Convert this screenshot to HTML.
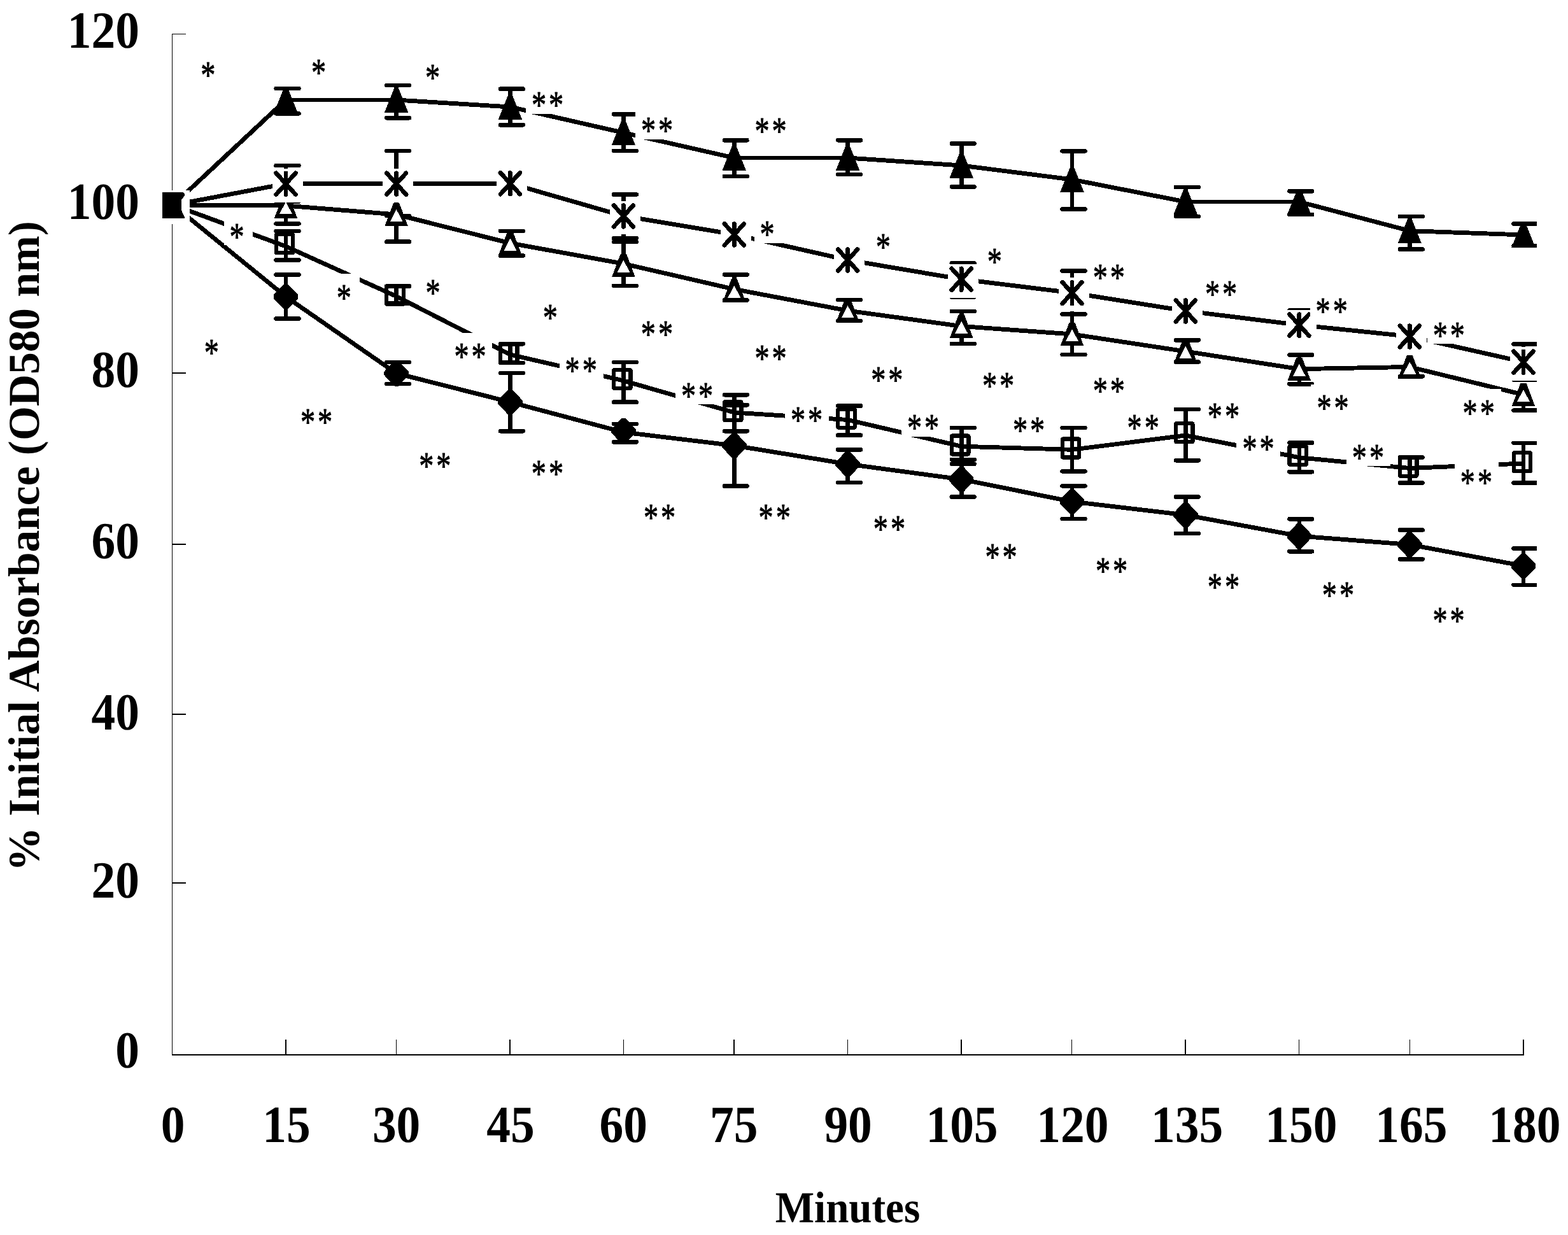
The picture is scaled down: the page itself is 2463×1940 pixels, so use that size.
<!DOCTYPE html>
<html lang="en"><head><meta charset="utf-8"><title>% Initial Absorbance (OD580 nm) vs Minutes</title>
<style>html,body{margin:0;padding:0;background:#fff}body{width:2463px;height:1940px;overflow:hidden}svg{display:block}text{font-family:"Liberation Serif", "Times New Roman", serif;fill:#000}.tk{font-weight:bold;font-size:82px}.ti{font-weight:bold;font-size:69.4px}.as{font-size:61px;stroke:#000;stroke-width:1px;stroke-linejoin:round}.l{fill:none;stroke:#000;stroke-width:6.9;stroke-linejoin:round;stroke-linecap:butt}.e{fill:none;stroke:#000;stroke-width:6.6;stroke-linecap:round}.s{fill:none;stroke:#000;stroke-width:6.6;stroke-linecap:butt}.a{fill:none;stroke:#000;stroke-width:1.6}.w{fill:#fff}.k{fill:#000}</style></head><body>
<svg width="2463" height="1940" viewBox="0 0 2463 1940" shape-rendering="crispEdges" text-rendering="geometricPrecision">
<rect class="w" x="0" y="0" width="2463" height="1940"/>
<defs><clipPath id="c"><rect x="0" y="0" width="2414" height="1940"/></clipPath></defs>
<g class="k">
<rect x="270" y="53" width="1.1" height="1605"/>
<rect x="270" y="1656" width="2124.4" height="2"/>
<rect x="270" y="53" width="22" height="1.4"/>
<rect x="270" y="585" width="22" height="2"/>
<rect x="270" y="854" width="22" height="2"/>
<rect x="270" y="1121" width="22" height="2"/>
<rect x="270" y="1386" width="22" height="2"/>
<rect x="448" y="1633" width="2" height="24"/>
<rect x="800" y="1633" width="2" height="24"/>
<rect x="1152" y="1633" width="2" height="24"/>
<rect x="1509" y="1633" width="2" height="24"/>
<rect x="1861" y="1633" width="2" height="24"/>
<rect x="2392.4" y="1633" width="2" height="24"/>
<rect x="622" y="1633" width="1.1" height="24"/>
<rect x="979" y="1633" width="1.1" height="24"/>
<rect x="1331" y="1633" width="1.1" height="24"/>
<rect x="1682.6" y="1633" width="1.1" height="24"/>
<rect x="2040" y="1633" width="1.1" height="24"/>
<rect x="2213.6" y="1633" width="1.1" height="24"/>
</g>
<g clip-path="url(#c)">
<polyline class="l" points="272,322 449,466 622.6,586.5 801.4,631.6 979.4,679 1153.3,699.9 1331.6,729 1510.2,753 1684,788 1862.3,809 2040.8,842 2214.3,855.5 2393,889"/>
<polyline class="l" points="272,322 449,387 622.6,465.5 801.4,557 979.4,598 1153.3,648 1331.6,659.5 1510.2,701.2 1684,706.3 1862.3,684 2040.8,718.7 2214.3,735.5 2393,728"/>
<polyline class="l" points="272,322 449,323 622.6,337 801.4,382 979.4,414.3 1153.3,454.3 1331.6,488 1510.2,512.5 1684,525 1862.3,552 2040.8,579.7 2214.3,576.4 2393,620"/>
<polyline class="l" points="272,322 449,288.6 622.6,288.6 801.4,288.1 979.4,339.3 1153.3,368.3 1331.6,408.4 1510.2,438.6 1684,460 1862.3,488.4 2040.8,510.5 2214.3,528.4 2393,568.6"/>
<polyline class="l" points="272,322 449,157 622.6,157 801.4,168 979.4,208.5 1153.3,248 1331.6,248 1510.2,260 1684,282 1862.3,317 2040.8,317 2214.3,362.6 2393,369"/>
<path class="w" d="M468 153.45 H603.6 v0.55 H468 z M468 160.55 H603.6 v-0.55 H468 z"/>
<path class="w" d="M1172.3 244.45 H1312.6 v0.55 H1172.3 z M1172.3 251.55 H1312.6 v-0.55 H1172.3 z"/>
<path class="w" d="M1881.3 313.45 H2021.8 v0.55 H1881.3 z M1881.3 320.55 H2021.8 v-0.55 H1881.3 z"/>
<path class="s" d="M449 431.4 V500.4M622.6 569 V603M801.4 586 V677.2M979.4 665.9 V694.4M1153.3 636.3 V763.5M1331.6 706.4 V758M1510.2 728.7 V780.5M1684 763.3 V815M1862.3 780.5 V838M2040.8 815.3 V866.2M2214.3 832.6 V878.4M2393 861.5 V918.8"/>
<path class="e" d="M433.6 431.4 H469.4M433.6 500.4 H469.4M607.2 569 H643M607.2 603 H643M786 586 H821.8M786 677.2 H821.8M964 665.9 H999.8M964 694.4 H999.8M1137.9 636.3 H1173.7M1137.9 763.5 H1173.7M1316.2 706.4 H1352M1316.2 758 H1352M1494.8 728.7 H1530.6M1494.8 780.5 H1530.6M1668.6 763.3 H1704.4M1668.6 815 H1704.4M1846.9 780.5 H1882.7M1846.9 838 H1882.7M2025.4 815.3 H2061.2M2025.4 866.2 H2061.2M2198.9 832.6 H2234.7M2198.9 878.4 H2234.7M2377.6 861.5 H2413.4M2377.6 918.8 H2413.4"/>
<path class="s" d="M449 363 V408.5M622.6 449.5 V476.5M801.4 540.3 V570M979.4 569 V631.6M1153.3 620.2 V677.2M1331.6 637.5 V683.6M1510.2 672 V721.8M1684 672 V740.3M1862.3 643 V723.2M2040.8 695.5 V741.2M2214.3 718.5 V758.5M2393 695.8 V758.6"/>
<path class="e" d="M433.6 363 H469.4M433.6 408.5 H469.4M607.2 449.5 H643M607.2 476.5 H643M786 540.3 H821.8M786 570 H821.8M964 569 H999.8M964 631.6 H999.8M1137.9 620.2 H1173.7M1137.9 677.2 H1173.7M1316.2 637.5 H1352M1316.2 683.6 H1352M1494.8 672 H1530.6M1494.8 721.8 H1530.6M1668.6 672 H1704.4M1668.6 740.3 H1704.4M1846.9 643 H1882.7M1846.9 723.2 H1882.7M2025.4 695.5 H2061.2M2025.4 741.2 H2061.2M2198.9 718.5 H2234.7M2198.9 758.5 H2234.7M2377.6 695.8 H2413.4M2377.6 758.6 H2413.4"/>
<path class="s" d="M449 294.7 V351.3M622.6 294.3 V379.7M801.4 362.8 V401.5M979.4 380 V448.8M1153.3 431.4 V471.5M1331.6 471 V504M1510.2 489 V540.1M1684 493.4 V557M1862.3 534.3 V568.6M2040.8 557.6 V603.2M2214.3 576.4 V591.3M2393 620 V644.7"/>
<path class="e" d="M433.6 294.7 H469.4M433.6 351.3 H469.4M607.2 294.3 H643M607.2 379.7 H643M786 362.8 H821.8M786 401.5 H821.8M964 380 H999.8M964 448.8 H999.8M1137.9 431.4 H1173.7M1137.9 471.5 H1173.7M1316.2 471 H1352M1316.2 504 H1352M1494.8 489 H1530.6M1494.8 540.1 H1530.6M1668.6 493.4 H1704.4M1668.6 557 H1704.4M1846.9 534.3 H1882.7M1846.9 568.6 H1882.7M2025.4 557.6 H2061.2M2025.4 603.2 H2061.2M2198.9 591.3 H2234.7M2377.6 644.7 H2413.4"/>
<path class="s" d="M449 260.1 V316.6M622.6 237 V339M979.4 305.5 V374.2M1510.2 413.5 V466.5M1684 425.6 V493.4M2040.8 487.5 V533.5M2393 540.5 V596.5"/>
<path class="e" d="M433.6 260.1 H469.4M433.6 316.6 H469.4M607.2 237 H643M607.2 339 H643M964 305.5 H999.8M964 374.2 H999.8M1494.8 413.5 H1530.6M1494.8 466.5 H1530.6M1668.6 425.6 H1704.4M1668.6 493.4 H1704.4M2025.4 487.5 H2061.2M2025.4 533.5 H2061.2M2377.6 540.5 H2413.4M2377.6 596.5 H2413.4"/>
<path class="s" d="M449 139 V178.3M622.6 134 V185.2M801.4 139.6 V196.3M979.4 179.4 V236.9M1153.3 220.3 V277M1331.6 220.3 V274M1510.2 225.6 V293.4M1684 237.3 V328.5M1862.3 294 V339.9M2040.8 300.3 V337M2214.3 340 V391.6M2393 351.5 V386"/>
<path class="e" d="M433.6 139 H469.4M433.6 178.3 H469.4M607.2 134 H643M607.2 185.2 H643M786 139.6 H821.8M786 196.3 H821.8M964 179.4 H999.8M964 236.9 H999.8M1137.9 220.3 H1173.7M1137.9 277 H1173.7M1316.2 220.3 H1352M1316.2 274 H1352M1494.8 225.6 H1530.6M1494.8 293.4 H1530.6M1668.6 237.3 H1704.4M1668.6 328.5 H1704.4M1846.9 294 H1882.7M1846.9 339.9 H1882.7M2025.4 300.3 H2061.2M2025.4 337 H2061.2M2198.9 340 H2234.7M2198.9 391.6 H2234.7M2377.6 351.5 H2413.4M2377.6 386 H2413.4"/>
<g>
<path class="k" d="M446.5 445.5 h5 l16.7 17.7 v5.6 l-16.7 17.7 h-5 l-16.7 -17.7 v-5.6z"/>
<path class="k" d="M620.1 566 h5 l16.7 17.7 v5.6 l-16.7 17.7 h-5 l-16.7 -17.7 v-5.6z"/>
<path class="k" d="M798.9 611.1 h5 l16.7 17.7 v5.6 l-16.7 17.7 h-5 l-16.7 -17.7 v-5.6z"/>
<path class="k" d="M976.9 656.5 h5 l16.7 17.7 v5.6 l-16.7 17.7 h-5 l-16.7 -17.7 v-5.6z"/>
<path class="k" d="M1150.8 679.4 h5 l16.7 17.7 v5.6 l-16.7 17.7 h-5 l-16.7 -17.7 v-5.6z"/>
<path class="k" d="M1329.1 708.5 h5 l16.7 17.7 v5.6 l-16.7 17.7 h-5 l-16.7 -17.7 v-5.6z"/>
<path class="k" d="M1507.7 732.5 h5 l16.7 17.7 v5.6 l-16.7 17.7 h-5 l-16.7 -17.7 v-5.6z"/>
<path class="k" d="M1681.5 767.5 h5 l16.7 17.7 v5.6 l-16.7 17.7 h-5 l-16.7 -17.7 v-5.6z"/>
<path class="k" d="M1859.8 788.5 h5 l16.7 17.7 v5.6 l-16.7 17.7 h-5 l-16.7 -17.7 v-5.6z"/>
<path class="k" d="M2038.3 821.5 h5 l16.7 17.7 v5.6 l-16.7 17.7 h-5 l-16.7 -17.7 v-5.6z"/>
<path class="k" d="M2211.8 835 h5 l16.7 17.7 v5.6 l-16.7 17.7 h-5 l-16.7 -17.7 v-5.6z"/>
<path class="k" d="M2390.5 868.5 h5 l16.7 17.7 v5.6 l-16.7 17.7 h-5 l-16.7 -17.7 v-5.6z"/>
</g>
<g>
<rect x="433.65" y="368.25" width="26.5" height="29" rx="1" fill="none" stroke="#000" stroke-width="6.3" stroke-linejoin="round"/>
<rect x="607.25" y="449.15" width="26.5" height="29" rx="1" fill="none" stroke="#000" stroke-width="6.3" stroke-linejoin="round"/>
<rect x="786.05" y="540.25" width="26.5" height="29" rx="1" fill="none" stroke="#000" stroke-width="6.3" stroke-linejoin="round"/>
<rect x="964.05" y="581.25" width="26.5" height="29" rx="1" fill="none" stroke="#000" stroke-width="6.3" stroke-linejoin="round"/>
<rect x="1137.95" y="631.25" width="26.5" height="29" rx="1" fill="none" stroke="#000" stroke-width="6.3" stroke-linejoin="round"/>
<rect x="1316.25" y="642.75" width="26.5" height="29" rx="1" fill="none" stroke="#000" stroke-width="6.3" stroke-linejoin="round"/>
<rect x="1494.85" y="684.45" width="26.5" height="29" rx="1" fill="none" stroke="#000" stroke-width="6.3" stroke-linejoin="round"/>
<rect x="1668.65" y="689.55" width="26.5" height="29" rx="1" fill="none" stroke="#000" stroke-width="6.3" stroke-linejoin="round"/>
<rect x="1846.95" y="665.25" width="26.5" height="29" rx="1" fill="none" stroke="#000" stroke-width="6.3" stroke-linejoin="round"/>
<rect x="2025.45" y="700.75" width="26.5" height="29" rx="1" fill="none" stroke="#000" stroke-width="6.3" stroke-linejoin="round"/>
<rect x="2198.95" y="718.75" width="26.5" height="29" rx="1" fill="none" stroke="#000" stroke-width="6.3" stroke-linejoin="round"/>
<rect x="2377.65" y="711.25" width="26.5" height="29" rx="1" fill="none" stroke="#000" stroke-width="6.3" stroke-linejoin="round"/>
</g>
<g>
<path class="k" d="M444.5 306.8 h9 l13.8 36.5 h-36.6z"/><path class="w" d="M449 316.8 l10 19.5 h-20z"/>
<path class="k" d="M618.1 318.8 h9 l13.8 36.5 h-36.6z"/><path class="w" d="M622.6 328.8 l10 19.5 h-20z"/>
<path class="k" d="M796.9 364.3 h9 l13.8 36.5 h-36.6z"/><path class="w" d="M801.4 374.3 l10 19.5 h-20z"/>
<path class="k" d="M974.9 398.5 h9 l13.8 36.5 h-36.6z"/><path class="w" d="M979.4 408.5 l10 19.5 h-20z"/>
<path class="k" d="M1148.8 438.3 h9 l13.8 36.5 h-36.6z"/><path class="w" d="M1153.3 448.3 l10 19.5 h-20z"/>
<path class="k" d="M1327.1 469.8 h9 l13.8 36.5 h-36.6z"/><path class="w" d="M1331.6 479.8 l10 19.5 h-20z"/>
<path class="k" d="M1505.7 494.3 h9 l13.8 36.5 h-36.6z"/><path class="w" d="M1510.2 504.3 l10 19.5 h-20z"/>
<path class="k" d="M1679.5 506.8 h9 l13.8 36.5 h-36.6z"/><path class="w" d="M1684 516.8 l10 19.5 h-20z"/>
<path class="k" d="M1857.8 533.8 h9 l13.8 36.5 h-36.6z"/><path class="w" d="M1862.3 543.8 l10 19.5 h-20z"/>
<path class="k" d="M2036.3 561.5 h9 l13.8 36.5 h-36.6z"/><path class="w" d="M2040.8 571.5 l10 19.5 h-20z"/>
<path class="k" d="M2209.8 558.2 h9 l13.8 36.5 h-36.6z"/><path class="w" d="M2214.3 568.2 l10 19.5 h-20z"/>
<path class="k" d="M2388.5 601.8 h9 l13.8 36.5 h-36.6z"/><path class="w" d="M2393 611.8 l10 19.5 h-20z"/>
</g>
<g>
<rect class="w" x="250.1" y="298.7" width="48" height="53.4"/>
<rect class="w" x="427.7" y="265" width="48" height="52.5"/><path d="M433.7 271.9 L464.3 305.5 M464.3 271.9 L433.7 305.5 M449 271.9 V305.5" fill="none" stroke="#000" stroke-width="6.9" stroke-linecap="round"/>
<rect class="w" x="601.3" y="265" width="48" height="52.5"/><path d="M607.3 271.9 L637.9 305.5 M637.9 271.9 L607.3 305.5 M622.6 271.9 V305.5" fill="none" stroke="#000" stroke-width="6.9" stroke-linecap="round"/>
<rect class="w" x="780.1" y="264.5" width="48" height="52.5"/><path d="M786.1 271.4 L816.7 305 M816.7 271.4 L786.1 305 M801.4 271.4 V305" fill="none" stroke="#000" stroke-width="6.9" stroke-linecap="round"/>
<rect class="w" x="958.1" y="315.7" width="48" height="52.5"/><path d="M964.1 322.6 L994.7 356.2 M994.7 322.6 L964.1 356.2 M979.4 322.6 V356.2" fill="none" stroke="#000" stroke-width="6.9" stroke-linecap="round"/>
<rect class="w" x="1132" y="344.7" width="48" height="52.5"/><path d="M1138 351.6 L1168.6 385.2 M1168.6 351.6 L1138 385.2 M1153.3 351.6 V385.2" fill="none" stroke="#000" stroke-width="6.9" stroke-linecap="round"/>
<rect class="w" x="1310.3" y="384.8" width="48" height="52.5"/><path d="M1316.3 391.7 L1346.9 425.3 M1346.9 391.7 L1316.3 425.3 M1331.6 391.7 V425.3" fill="none" stroke="#000" stroke-width="6.9" stroke-linecap="round"/>
<rect class="w" x="1488.9" y="415" width="48" height="52.5"/><path d="M1494.9 421.9 L1525.5 455.5 M1525.5 421.9 L1494.9 455.5 M1510.2 421.9 V455.5" fill="none" stroke="#000" stroke-width="6.9" stroke-linecap="round"/>
<rect class="w" x="1662.7" y="436.4" width="48" height="52.5"/><path d="M1668.7 443.3 L1699.3 476.9 M1699.3 443.3 L1668.7 476.9 M1684 443.3 V476.9" fill="none" stroke="#000" stroke-width="6.9" stroke-linecap="round"/>
<rect class="w" x="1841" y="464.8" width="48" height="52.5"/><path d="M1847 471.7 L1877.6 505.3 M1877.6 471.7 L1847 505.3 M1862.3 471.7 V505.3" fill="none" stroke="#000" stroke-width="6.9" stroke-linecap="round"/>
<rect class="w" x="2019.5" y="486.9" width="48" height="52.5"/><path d="M2025.5 493.8 L2056.1 527.4 M2056.1 493.8 L2025.5 527.4 M2040.8 493.8 V527.4" fill="none" stroke="#000" stroke-width="6.9" stroke-linecap="round"/>
<rect class="w" x="2193" y="504.8" width="48" height="52.5"/><path d="M2199 511.7 L2229.6 545.3 M2229.6 511.7 L2199 545.3 M2214.3 511.7 V545.3" fill="none" stroke="#000" stroke-width="6.9" stroke-linecap="round"/>
<rect class="w" x="2371.7" y="545" width="48" height="52.5"/><path d="M2377.7 551.9 L2408.3 585.5 M2408.3 551.9 L2377.7 585.5 M2393 551.9 V585.5" fill="none" stroke="#000" stroke-width="6.9" stroke-linecap="round"/>
<rect class="k" x="255" y="302" width="29.5" height="41"/>
<path class="k" d="M284 302 h4 l2.3 2.5 v3 l-6.3 7z M284 328 l6.3 14 v1 h-6.3z"/>
</g>
<g>
<path class="k" d="M446 138 h6 l15.6 39 h-37.2z"/>
<path class="k" d="M619.6 137.5 h6 l15.6 39 h-37.2z"/>
<path class="k" d="M798.4 148.5 h6 l15.6 39 h-37.2z"/>
<path class="k" d="M976.4 189 h6 l15.6 39 h-37.2z"/>
<path class="k" d="M1150.3 228.5 h6 l15.6 39 h-37.2z"/>
<path class="k" d="M1328.6 228.5 h6 l15.6 39 h-37.2z"/>
<path class="k" d="M1507.2 240.5 h6 l15.6 39 h-37.2z"/>
<path class="k" d="M1681 262.5 h6 l15.6 39 h-37.2z"/>
<path class="k" d="M1859.3 297.5 h6 l15.6 39 h-37.2z"/>
<path class="k" d="M2037.8 297.5 h6 l15.6 39 h-37.2z"/>
<path class="k" d="M2211.3 343.1 h6 l15.6 39 h-37.2z"/>
<path class="k" d="M2390 349.5 h6 l15.6 39 h-37.2z"/>
</g>
</g>
<g>
<rect class="w" x="306.3" y="79.9" width="45.5" height="51.3"/>
<text class="as" text-anchor="middle" transform="translate(326.8 137.66) scale(0.76 1)">*</text>
<rect class="w" x="480" y="76" width="45.5" height="51.3"/>
<text class="as" text-anchor="middle" transform="translate(500.5 133.76) scale(0.76 1)">*</text>
<rect class="w" x="659" y="84.1" width="45.5" height="51.3"/>
<text class="as" text-anchor="middle" transform="translate(679.5 141.86) scale(0.76 1)">*</text>
<rect class="w" x="351.7" y="333.8" width="45.5" height="51.3"/>
<text class="as" text-anchor="middle" transform="translate(372.2 391.56) scale(0.76 1)">*</text>
<rect class="w" x="519.8" y="429.8" width="45.5" height="51.3"/>
<text class="as" text-anchor="middle" transform="translate(540.3 487.56) scale(0.76 1)">*</text>
<rect class="w" x="659.5" y="422.3" width="45.5" height="51.3"/>
<text class="as" text-anchor="middle" transform="translate(680 480.06) scale(0.76 1)">*</text>
<rect class="w" x="311.8" y="516.6" width="45.5" height="51.3"/>
<text class="as" text-anchor="middle" transform="translate(332.3 574.36) scale(0.76 1)">*</text>
<rect class="w" x="843.9" y="461" width="45.5" height="51.3"/>
<text class="as" text-anchor="middle" transform="translate(864.4 518.76) scale(0.76 1)">*</text>
<rect class="w" x="1184.6" y="330.2" width="45.5" height="51.3"/>
<text class="as" text-anchor="middle" transform="translate(1205.1 387.96) scale(0.76 1)">*</text>
<rect class="w" x="1366.8" y="350.7" width="45.5" height="51.3"/>
<text class="as" text-anchor="middle" transform="translate(1387.3 408.46) scale(0.76 1)">*</text>
<rect class="w" x="1541.8" y="372.9" width="45.5" height="51.3"/>
<text class="as" text-anchor="middle" transform="translate(1562.3 430.66) scale(0.76 1)">*</text>
<rect class="w" x="825.95" y="127.5" width="69" height="51.3"/>
<text class="as" text-anchor="middle" transform="translate(846.6 185.26) scale(0.76 1)">*</text>
<text class="as" text-anchor="middle" transform="translate(873.7 185.26) scale(0.76 1)">*</text>
<rect class="w" x="997.95" y="167.7" width="69" height="51.3"/>
<text class="as" text-anchor="middle" transform="translate(1018.6 225.46) scale(0.76 1)">*</text>
<text class="as" text-anchor="middle" transform="translate(1045.7 225.46) scale(0.76 1)">*</text>
<rect class="w" x="1176.45" y="168.4" width="69" height="51.3"/>
<text class="as" text-anchor="middle" transform="translate(1197.1 226.16) scale(0.76 1)">*</text>
<text class="as" text-anchor="middle" transform="translate(1224.2 226.16) scale(0.76 1)">*</text>
<rect class="w" x="704.45" y="522.7" width="69" height="51.3"/>
<text class="as" text-anchor="middle" transform="translate(725.1 580.46) scale(0.76 1)">*</text>
<text class="as" text-anchor="middle" transform="translate(752.2 580.46) scale(0.76 1)">*</text>
<rect class="w" x="462.95" y="625" width="69" height="51.3"/>
<text class="as" text-anchor="middle" transform="translate(483.6 682.76) scale(0.76 1)">*</text>
<text class="as" text-anchor="middle" transform="translate(510.7 682.76) scale(0.76 1)">*</text>
<rect class="w" x="649.15" y="694.2" width="69" height="51.3"/>
<text class="as" text-anchor="middle" transform="translate(669.8 751.96) scale(0.76 1)">*</text>
<text class="as" text-anchor="middle" transform="translate(696.9 751.96) scale(0.76 1)">*</text>
<rect class="w" x="997.75" y="487.4" width="69" height="51.3"/>
<text class="as" text-anchor="middle" transform="translate(1018.4 545.16) scale(0.76 1)">*</text>
<text class="as" text-anchor="middle" transform="translate(1045.5 545.16) scale(0.76 1)">*</text>
<rect class="w" x="1176.45" y="525.3" width="69" height="51.3"/>
<text class="as" text-anchor="middle" transform="translate(1197.1 583.06) scale(0.76 1)">*</text>
<text class="as" text-anchor="middle" transform="translate(1224.2 583.06) scale(0.76 1)">*</text>
<rect class="w" x="878.55" y="544.6" width="69" height="51.3"/>
<text class="as" text-anchor="middle" transform="translate(899.2 602.36) scale(0.76 1)">*</text>
<text class="as" text-anchor="middle" transform="translate(926.3 602.36) scale(0.76 1)">*</text>
<rect class="w" x="1060.85" y="583.8" width="69" height="51.3"/>
<text class="as" text-anchor="middle" transform="translate(1081.5 641.56) scale(0.76 1)">*</text>
<text class="as" text-anchor="middle" transform="translate(1108.6 641.56) scale(0.76 1)">*</text>
<rect class="w" x="1232.85" y="622.5" width="69" height="51.3"/>
<text class="as" text-anchor="middle" transform="translate(1253.5 680.26) scale(0.76 1)">*</text>
<text class="as" text-anchor="middle" transform="translate(1280.6 680.26) scale(0.76 1)">*</text>
<rect class="w" x="825.75" y="706.1" width="69" height="51.3"/>
<text class="as" text-anchor="middle" transform="translate(846.4 763.86) scale(0.76 1)">*</text>
<text class="as" text-anchor="middle" transform="translate(873.5 763.86) scale(0.76 1)">*</text>
<rect class="w" x="1001.95" y="775.2" width="69" height="51.3"/>
<text class="as" text-anchor="middle" transform="translate(1022.6 832.96) scale(0.76 1)">*</text>
<text class="as" text-anchor="middle" transform="translate(1049.7 832.96) scale(0.76 1)">*</text>
<rect class="w" x="1182.55" y="775.2" width="69" height="51.3"/>
<text class="as" text-anchor="middle" transform="translate(1203.2 832.96) scale(0.76 1)">*</text>
<text class="as" text-anchor="middle" transform="translate(1230.3 832.96) scale(0.76 1)">*</text>
<rect class="w" x="1707.65" y="398.3" width="69" height="51.3"/>
<text class="as" text-anchor="middle" transform="translate(1728.3 456.06) scale(0.76 1)">*</text>
<text class="as" text-anchor="middle" transform="translate(1755.4 456.06) scale(0.76 1)">*</text>
<rect class="w" x="1883.85" y="424" width="69" height="51.3"/>
<text class="as" text-anchor="middle" transform="translate(1904.5 481.76) scale(0.76 1)">*</text>
<text class="as" text-anchor="middle" transform="translate(1931.6 481.76) scale(0.76 1)">*</text>
<rect class="w" x="1359.15" y="559.1" width="69" height="51.3"/>
<text class="as" text-anchor="middle" transform="translate(1379.8 616.86) scale(0.76 1)">*</text>
<text class="as" text-anchor="middle" transform="translate(1406.9 616.86) scale(0.76 1)">*</text>
<rect class="w" x="1533.95" y="568" width="69" height="51.3"/>
<text class="as" text-anchor="middle" transform="translate(1554.6 625.76) scale(0.76 1)">*</text>
<text class="as" text-anchor="middle" transform="translate(1581.7 625.76) scale(0.76 1)">*</text>
<rect class="w" x="1707.65" y="576.4" width="69" height="51.3"/>
<text class="as" text-anchor="middle" transform="translate(1728.3 634.16) scale(0.76 1)">*</text>
<text class="as" text-anchor="middle" transform="translate(1755.4 634.16) scale(0.76 1)">*</text>
<rect class="w" x="1887.75" y="616.2" width="69" height="51.3"/>
<text class="as" text-anchor="middle" transform="translate(1908.4 673.96) scale(0.76 1)">*</text>
<text class="as" text-anchor="middle" transform="translate(1935.5 673.96) scale(0.76 1)">*</text>
<rect class="w" x="1415.85" y="634.5" width="69" height="51.3"/>
<text class="as" text-anchor="middle" transform="translate(1436.5 692.26) scale(0.76 1)">*</text>
<text class="as" text-anchor="middle" transform="translate(1463.6 692.26) scale(0.76 1)">*</text>
<rect class="w" x="1581.85" y="638.1" width="69" height="51.3"/>
<text class="as" text-anchor="middle" transform="translate(1602.5 695.86) scale(0.76 1)">*</text>
<text class="as" text-anchor="middle" transform="translate(1629.6 695.86) scale(0.76 1)">*</text>
<rect class="w" x="1761.55" y="634.5" width="69" height="48.5"/>
<text class="as" text-anchor="middle" transform="translate(1782.2 692.26) scale(0.76 1)">*</text>
<text class="as" text-anchor="middle" transform="translate(1809.3 692.26) scale(0.76 1)">*</text>
<rect class="w" x="1362.75" y="793" width="69" height="51.3"/>
<text class="as" text-anchor="middle" transform="translate(1383.4 850.76) scale(0.76 1)">*</text>
<text class="as" text-anchor="middle" transform="translate(1410.5 850.76) scale(0.76 1)">*</text>
<rect class="w" x="1538.35" y="837.2" width="69" height="51.3"/>
<text class="as" text-anchor="middle" transform="translate(1559 894.96) scale(0.76 1)">*</text>
<text class="as" text-anchor="middle" transform="translate(1586.1 894.96) scale(0.76 1)">*</text>
<rect class="w" x="1711.85" y="859.4" width="69" height="51.3"/>
<text class="as" text-anchor="middle" transform="translate(1732.5 917.16) scale(0.76 1)">*</text>
<text class="as" text-anchor="middle" transform="translate(1759.6 917.16) scale(0.76 1)">*</text>
<rect class="w" x="1887.75" y="884.2" width="69" height="51.3"/>
<text class="as" text-anchor="middle" transform="translate(1908.4 941.96) scale(0.76 1)">*</text>
<text class="as" text-anchor="middle" transform="translate(1935.5 941.96) scale(0.76 1)">*</text>
<rect class="w" x="2057.55" y="450.9" width="69" height="51.3"/>
<text class="as" text-anchor="middle" transform="translate(2078.2 508.66) scale(0.76 1)">*</text>
<text class="as" text-anchor="middle" transform="translate(2105.3 508.66) scale(0.76 1)">*</text>
<rect class="w" x="2241.65" y="488.8" width="69" height="51.3"/>
<text class="as" text-anchor="middle" transform="translate(2262.3 546.56) scale(0.76 1)">*</text>
<text class="as" text-anchor="middle" transform="translate(2289.4 546.56) scale(0.76 1)">*</text>
<rect class="w" x="2059.45" y="603.6" width="69" height="51.3"/>
<text class="as" text-anchor="middle" transform="translate(2080.1 661.36) scale(0.76 1)">*</text>
<text class="as" text-anchor="middle" transform="translate(2107.2 661.36) scale(0.76 1)">*</text>
<rect class="w" x="2288.55" y="610.8" width="69" height="51.3"/>
<text class="as" text-anchor="middle" transform="translate(2309.2 668.56) scale(0.76 1)">*</text>
<text class="as" text-anchor="middle" transform="translate(2336.3 668.56) scale(0.76 1)">*</text>
<rect class="w" x="1942.45" y="667.7" width="69" height="51.3"/>
<text class="as" text-anchor="middle" transform="translate(1963.1 725.46) scale(0.76 1)">*</text>
<text class="as" text-anchor="middle" transform="translate(1990.2 725.46) scale(0.76 1)">*</text>
<rect class="w" x="2114.75" y="680.9" width="69" height="51.3"/>
<text class="as" text-anchor="middle" transform="translate(2135.4 738.66) scale(0.76 1)">*</text>
<text class="as" text-anchor="middle" transform="translate(2162.5 738.66) scale(0.76 1)">*</text>
<rect class="w" x="2284.75" y="720.2" width="69" height="51.3"/>
<text class="as" text-anchor="middle" transform="translate(2305.4 777.96) scale(0.76 1)">*</text>
<text class="as" text-anchor="middle" transform="translate(2332.5 777.96) scale(0.76 1)">*</text>
<rect class="w" x="2067.75" y="897.2" width="69" height="51.3"/>
<text class="as" text-anchor="middle" transform="translate(2088.4 954.96) scale(0.76 1)">*</text>
<text class="as" text-anchor="middle" transform="translate(2115.5 954.96) scale(0.76 1)">*</text>
<rect class="w" x="2241.45" y="936.8" width="69" height="51.3"/>
<text class="as" text-anchor="middle" transform="translate(2262.1 994.56) scale(0.76 1)">*</text>
<text class="as" text-anchor="middle" transform="translate(2289.2 994.56) scale(0.76 1)">*</text>
</g>
<g>
<text class="tk" text-anchor="end" transform="translate(219 74.9) scale(0.92 1)">120</text>
<text class="tk" text-anchor="end" transform="translate(219 344) scale(0.92 1)">100</text>
<text class="tk" text-anchor="end" transform="translate(219 607.6) scale(0.92 1)">80</text>
<text class="tk" text-anchor="end" transform="translate(219 876.8) scale(0.92 1)">60</text>
<text class="tk" text-anchor="end" transform="translate(219 1146) scale(0.92 1)">40</text>
<text class="tk" text-anchor="end" transform="translate(219 1409.5) scale(0.92 1)">20</text>
<text class="tk" text-anchor="end" transform="translate(219 1677.3) scale(0.92 1)">0</text>
<text class="tk" text-anchor="middle" transform="translate(271.5 1793.6) scale(0.92 1)">0</text>
<text class="tk" text-anchor="middle" transform="translate(449.9 1793.6) scale(0.92 1)">15</text>
<text class="tk" text-anchor="middle" transform="translate(622.6 1793.6) scale(0.92 1)">30</text>
<text class="tk" text-anchor="middle" transform="translate(802 1793.6) scale(0.92 1)">45</text>
<text class="tk" text-anchor="middle" transform="translate(979.3 1793.6) scale(0.92 1)">60</text>
<text class="tk" text-anchor="middle" transform="translate(1152.7 1793.6) scale(0.92 1)">75</text>
<text class="tk" text-anchor="middle" transform="translate(1332.1 1793.6) scale(0.92 1)">90</text>
<text class="tk" text-anchor="middle" transform="translate(1511 1793.6) scale(0.92 1)">105</text>
<text class="tk" text-anchor="middle" transform="translate(1684.8 1793.6) scale(0.92 1)">120</text>
<text class="tk" text-anchor="middle" transform="translate(1864.7 1793.6) scale(0.92 1)">135</text>
<text class="tk" text-anchor="middle" transform="translate(2043.8 1793.6) scale(0.92 1)">150</text>
<text class="tk" text-anchor="middle" transform="translate(2216.9 1793.6) scale(0.92 1)">165</text>
<text class="tk" text-anchor="middle" transform="translate(2394.8 1793.6) scale(0.92 1)">180</text>
<text class="ti" text-anchor="middle" transform="translate(1331.5 1919.6) scale(0.937 1)">Minutes</text>
<text class="ti" text-anchor="middle" transform="translate(60.5 857.9) rotate(-90)">% Initial Absorbance (OD580 nm)</text>
</g>
</svg></body></html>
